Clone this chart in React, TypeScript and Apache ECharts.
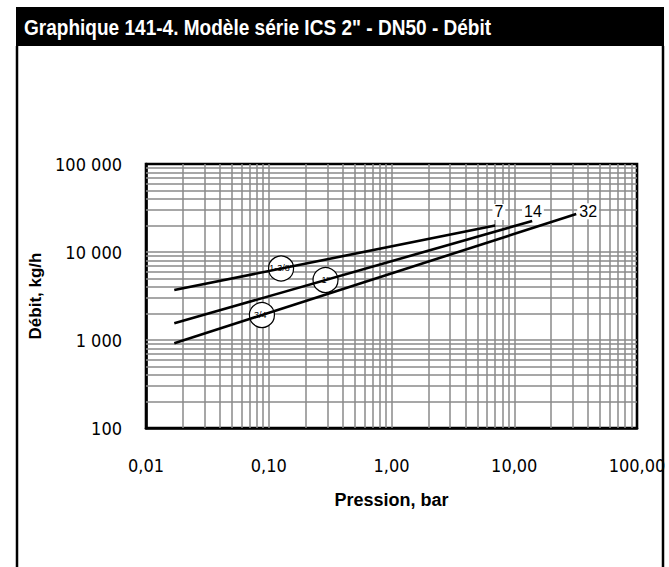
import React, { useEffect, useRef } from "react";
import * as echarts from "echarts";

const titleText = 'Graphique 141-4. Modèle série ICS 2" - DN50 - Débit';
const xAxisName = "Pression, bar";
const yAxisName = "Débit, kg/h";

const xTicks = [0.01, 0.1, 1, 10, 100];
const xTickLabels = ["0,01", "0,10", "1,00", "10,00", "100,00"];
const yTicks = [100, 1000, 10000, 100000];
const yTickLabels = ["100", "1 000", "10 000", "100 000"];

const xGridValues = [
  0.02, 0.03, 0.04, 0.05, 0.06, 0.07, 0.08, 0.09,
  0.1, 0.2, 0.3, 0.4, 0.5, 0.6, 0.7, 0.8, 0.9,
  1, 2, 3, 4, 5, 6, 7, 8, 9,
  10, 20, 30, 40, 50, 60, 70, 80, 90,
];
const yGridValues = [
  200, 300, 400, 500, 600, 700, 800, 900,
  1000, 2000, 3000, 4000, 5000, 6000, 7000, 8000, 9000,
  10000, 20000, 30000, 40000, 50000, 60000, 70000, 80000, 90000,
];

const sizeNames = ['1-3/8"', '1"', '3/4"'];
const endNames = ["7", "14", "32"];
const line138 = [
  [0.017, 3700],
  [7, 20000],
];
const line1 = [
  [0.017, 1550],
  [14, 22500],
];
const line34 = [
  [0.017, 920],
  [32, 27000],
];
const sizeLabelAt = [
  [0.126, 6500],
  [0.29, 4800],
  [0.088, 1920],
];
const endLabelAt = [
  [7.5, 28500],
  [14.2, 28500],
  [40, 29000],
];

const COND = '"DejaVu Sans Condensed", "Liberation Sans", sans-serif';
const SANS = '"Liberation Sans", Arial, sans-serif';

function matchLabel(v: number, ticks: number[], labels: string[]) {
  for (let i = 0; i < ticks.length; i++) {
    if (Math.abs(Math.log10(v) - Math.log10(ticks[i])) < 1e-6) return labels[i];
  }
  return "";
}

export default function App() {
  const ref = useRef<HTMLDivElement>(null);
  useEffect(() => {
    if (!ref.current) return;
    const chart = echarts.init(ref.current, null, { renderer: "svg" });
    const lines = [line138, line1, line34];
    const series: any[] = lines.map((d, i) => ({
      type: "line",
      name: sizeNames[i],
      data: d,
      symbol: "none",
      lineStyle: { color: "#000", width: 2.6 },
      z: 5,
      silent: true,
      markPoint: {
        silent: true,
        animation: false,
        data: [
          {
            name: sizeNames[i],
            coord: sizeLabelAt[i],
            symbol: "circle",
            symbolSize: 25,
            itemStyle: { color: "#fff", borderColor: "#000", borderWidth: 1.2 },
            label: {
              show: true,
              position: "inside",
              formatter: () => sizeNames[i],
              color: "#000",
              fontSize: 9,
              fontFamily: SANS,
              overflow: "none",
            },
          },
          {
            name: endNames[i],
            coord: endLabelAt[i],
            symbol: "rect",
            symbolSize: 0.01,
            itemStyle: { color: "transparent" },
            label: {
              show: true,
              position: "inside",
              formatter: () => endNames[i],
              color: "#000",
              fontSize: 16,
              fontFamily: SANS,
              backgroundColor: "#fff",
              padding: [0, 2],
            },
          },
        ],
      },
    }));
    series.push({
      type: "line",
      data: [],
      silent: true,
      z: 1,
      markLine: {
        silent: true,
        animation: false,
        symbol: ["none", "none"],
        label: { show: false },
        lineStyle: { color: "#8a8a8a", width: 1.5, type: "solid" },
        emphasis: { disabled: true },
        data: [
          ...xGridValues.map((v) => ({ xAxis: v })),
          ...yGridValues.map((v) => ({ yAxis: v })),
        ],
      },
    });
    chart.setOption({
      animation: false,
      backgroundColor: "#fff",
      grid: {
        left: 146,
        top: 164,
        width: 491,
        height: 264,
        show: true,
        borderColor: "#000",
        borderWidth: 2.6,
        backgroundColor: "transparent",
      },
      xAxis: {
        type: "log",
        logBase: 10,
        min: 0.01,
        max: 100,
        splitNumber: 4,
        name: xAxisName,
        nameLocation: "middle",
        nameGap: 63,
        nameTextStyle: { fontFamily: SANS, fontWeight: "bold", fontSize: 18, color: "#000" },
        axisLine: { show: true, lineStyle: { color: "#000", width: 2.6 } },
        axisTick: { show: false },
        splitLine: { show: false },
        axisLabel: {
          showMinLabel: true,
          showMaxLabel: true,
          margin: 28,
          color: "#000",
          fontSize: 18,
          fontFamily: COND,
          formatter: (v: number) => matchLabel(v, xTicks, xTickLabels),
        },
      },
      yAxis: {
        type: "log",
        logBase: 10,
        min: 100,
        max: 100000,
        splitNumber: 3,
        name: yAxisName,
        nameLocation: "middle",
        nameGap: 84,
        nameRotate: 90,
        nameTextStyle: { fontFamily: SANS, fontWeight: "bold", fontSize: 17, color: "#000" },
        axisLine: { show: true, lineStyle: { color: "#000", width: 2.6 } },
        axisTick: { show: false },
        splitLine: { show: false },
        axisLabel: {
          showMinLabel: true,
          showMaxLabel: true,
          margin: 24,
          color: "#000",
          fontSize: 18,
          fontFamily: COND,
          formatter: (v: number) => matchLabel(v, yTicks, yTickLabels),
        },
      },
      series,
      graphic: [
        { type: "rect", shape: { x: 16, y: 7, width: 648, height: 39 }, style: { fill: "#000" }, silent: true },
        {
          type: "text",
          x: 24,
          y: 27,
          scaleX: 0.866,
          silent: true,
          style: {
            text: titleText,
            fill: "#fff",
            fontSize: 22,
            fontWeight: "bold",
            fontFamily: SANS,
            verticalAlign: "middle",
          },
        },
        { type: "line", shape: { x1: 17, y1: 46, x2: 17, y2: 567 }, style: { stroke: "#000", lineWidth: 2.5 }, silent: true },
        { type: "line", shape: { x1: 663, y1: 46, x2: 663, y2: 567 }, style: { stroke: "#000", lineWidth: 2.5 }, silent: true },
      ],
    });
    return () => chart.dispose();
  }, []);
  return (
    <div
      ref={ref}
      style={{ position: "fixed", left: 0, top: 0, width: 669, height: 567 }}
    />
  );
}
